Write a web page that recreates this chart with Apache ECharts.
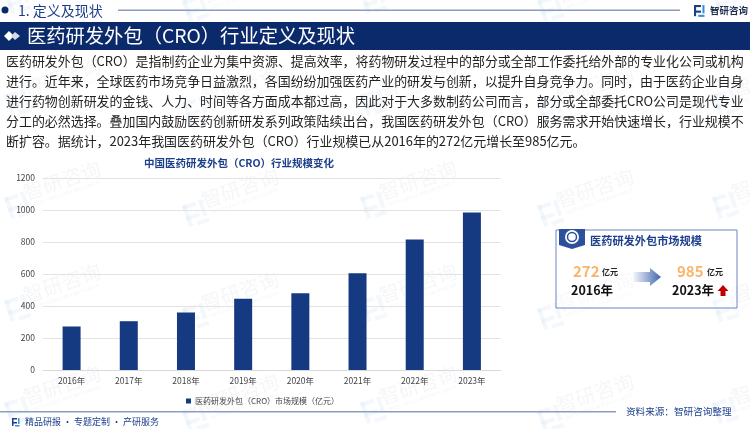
<!DOCTYPE html>
<html>
<head>
<meta charset="utf-8">
<style>
html,body{margin:0;padding:0;background:#fff;}
#main{width:750px;height:429px;}
</style>
<script src="https://cdn.jsdelivr.net/npm/echarts@6/dist/echarts.min.js"></script>
</head>
<body>
<div id="main"></div>
<script>
//data
var years = ['2016年','2017年','2018年','2019年','2020年','2021年','2022年','2023年'];
var marketSize = [272,305,360,445,480,604,815,985];
var yTicks = [0,200,400,600,800,1000,1200];
var seriesName = '医药研发外包（CRO）市场规模（亿元）';
var chartTitle = '中国医药研发外包（CRO）行业规模变化';
var bodyLines = [
	'医药研发外包（CRO）是指制药企业为集中资源、提高效率，将药物研发过程中的部分或全部工作委托给外部的专业化公司或机构',
	'进行。近年来，全球医药市场竞争日益激烈，各国纷纷加强医药产业的研发与创新，以提升自身竞争力。同时，由于医药企业自身',
	'进行药物创新研发的金钱、人力、时间等各方面成本都过高，因此对于大多数制药公司而言，部分或全部委托CRO公司是现代专业',
	'分工的必然选择。叠加国内鼓励医药创新研发系列政策陆续出台，我国医药研发外包（CRO）服务需求开始快速增长，行业规模不',
	'断扩容。据统计，2023年我国医药研发外包（CRO）行业规模已从2016年的272亿元增长至985亿元。'
];

var FONT = '"Noto Sans CJK SC","Noto Sans",sans-serif';
var NAVY = '#0b2a6b';
var BLUE = '#1d3f8b';

function txt(x, y, text, size, color, weight, align) {
	return {
		type: 'text', x: x, y: y, z: 10,
		style: {
			text: text, font: (weight || 'normal') + ' ' + size + 'px ' + FONT,
			fill: color, textAlign: align || 'left', textVerticalAlign: 'middle'
		}
	};
}

function lineGrad(x1, x2, y) {
	return {
		type: 'rect', z: 5,
		shape: {x: x1, y: y, width: x2 - x1, height: 1.5},
		style: {fill: '#8c9dbd'}
	};
}

// small logo made of two brackets
function logo(x, y, s, c1, c2, rot) {
	return {
		type: 'group', x: x, y: y, z: 10, rotation: rot || 0,
		children: [
			{type: 'rect', shape: {x: 0, y: 0, width: 5 * s, height: 1.5 * s}, style: {fill: c1 || BLUE}},
			{type: 'rect', shape: {x: 0, y: 0, width: 1.5 * s, height: 8 * s}, style: {fill: c1 || BLUE}},
			{type: 'rect', shape: {x: 0, y: 4 * s, width: 5 * s, height: 1.5 * s}, style: {fill: c1 || BLUE}},
			{type: 'rect', shape: {x: 6 * s, y: 0, width: 1.5 * s, height: 6 * s}, style: {fill: c2 || '#3f8fd8'}},
			{type: 'rect', shape: {x: 3 * s, y: 7 * s, width: 4.5 * s, height: 1.5 * s}, style: {fill: c2 || '#3f8fd8'}}
		]
	};
}

var graphics = [];

// faint watermarks behind everything
var wmRows = [-25,77,180,283,385];
var wmCols = [62,240,418,595,770];
wmRows.forEach(function(rowY) {
	wmCols.forEach(function(colX, colIdx) {
		var y = rowY + (colIdx % 2) * 8;
		var mark = logo(colX - 58, y + 18, 2.8, 'rgba(70,140,200,0.06)', 'rgba(70,140,200,0.06)', 0.33);
		mark.z = 0;
		mark.silent = true;
		graphics.push(mark);
		graphics.push({
			type: 'group', x: colX, y: y, rotation: 0.33, z: 0, silent: true,
			children: [
				{type: 'text', style: {text: '智研咨询', font: '20px ' + FONT, fill: 'rgba(60,100,140,0.06)', textAlign: 'center', textVerticalAlign: 'middle'}},
				{type: 'text', y: 14, style: {text: 'INTELLIGENCE RESEARCH GROUP', font: '4.5px ' + FONT, fill: 'rgba(60,100,140,0.07)', textAlign: 'center', textVerticalAlign: 'middle'}}
			]
		});
	});
});

// header
graphics.push({type: 'circle', z: 10, shape: {cx: 5, cy: 10, r: 3.5}, style: {fill: NAVY}});
graphics.push(txt(18, 10.5, '1. 定义及现状', 14, '#1d3f8b'));
graphics.push(lineGrad(118, 680, 9.5));
graphics.push(logo(694, 5, 1.4));
graphics.push(txt(710, 10, '智研咨询', 9.5, '#1f2d50', 'bold'));
graphics.push({type: 'rect', z: 5, shape: {x: 0, y: 22, width: 750, height: 28}, style: {fill: NAVY}});
graphics.push({type: 'polygon', z: 10, shape: {points: [[4,36],[9,31],[14,36],[9,41]]}, style: {fill: '#fff'}});
graphics.push({type: 'polygon', z: 10, shape: {points: [[11,36],[15,32],[20,36],[15,40]]}, style: {fill: '#d5d9e2'}});
graphics.push(txt(27, 36, '医药研发外包（CRO）行业定义及现状', 19.3, '#fff'));

// paragraph
bodyLines.forEach(function(cur, idx) {
	graphics.push(txt(6, 61 + idx * 20, cur, 12.95, '#222'));
});

// right panel
graphics.push({type: 'rect', z: 5, shape: {x: 556, y: 230, width: 181, height: 78}, style: {fill: 'rgba(255,255,255,0.4)', stroke: '#6b86bd', lineWidth: 1}});
graphics.push({type: 'polygon', z: 6, shape: {points: [[559,229],[585,229],[585,245],[572,249],[559,245]]}, style: {fill: '#2c4f9e'}});
graphics.push({type: 'circle', z: 7, shape: {cx: 572, cy: 237, r: 7}, style: {fill: '#fff'}});
graphics.push({type: 'circle', z: 8, shape: {cx: 572, cy: 237, r: 4.5}, style: {fill: '#fff', stroke: '#2c4f9e', lineWidth: 1.5}});
graphics.push(txt(590, 241, '医药研发外包市场规模', 11.2, '#1f3f8f', 'bold'));
graphics.push(txt(573, 271, '272', 15, '#f9b56a', 'bold'));
graphics.push(txt(602, 272, '亿元', 8, '#222', 'bold'));
graphics.push(txt(571, 290, '2016年', 12.5, '#111', 'bold'));
graphics.push({
	type: 'polygon', z: 8,
	shape: {points: [[633,272],[650,272],[650,268],[661,277],[650,286],[650,282],[633,282]]},
	style: {fill: new echarts.graphic.LinearGradient(0, 0, 1, 0, [{offset: 0, color: 'rgba(70,105,170,0.05)'}, {offset: 1, color: '#3f65ad'}])}
});
graphics.push(txt(677, 271, '985', 15, '#f9b56a', 'bold'));
graphics.push(txt(707, 272, '亿元', 8, '#222', 'bold'));
graphics.push(txt(672, 290, '2023年', 12.5, '#111', 'bold'));
graphics.push({type: 'polygon', z: 8, shape: {points: [[723,285],[728.5,291],[725.5,291],[725.5,296],[720.5,296],[720.5,291],[717.5,291]]}, style: {fill: '#c00000'}});

// footer
graphics.push(lineGrad(0, 616, 411));
graphics.push(logo(12, 418, 1));
graphics.push(txt(25, 422, '精品研报 · 专题定制 · 产研服务', 9, '#1d3f8b'));
graphics.push(txt(626, 411, '资料来源：智研咨询整理', 9.6, '#1d3f8b'));

var chart = echarts.init(document.getElementById('main'), null, {renderer: 'canvas'});
chart.setOption({
	animation: false,
	backgroundColor: '#fff',
	textStyle: {fontFamily: FONT},
	title: {
		text: chartTitle,
		left: 234,
		top: 151,
		textAlign: 'center',
		textStyle: {fontSize: 10.5, fontWeight: 'bold', color: BLUE, fontFamily: FONT, lineHeight: 14}
	},
	legend: {
		data: [seriesName],
		left: 186,
		top: 397,
		icon: 'rect',
		itemWidth: 5,
		itemHeight: 5,
		itemGap: 4,
		padding: 0,
		textStyle: {fontSize: 8, color: '#444', fontFamily: FONT, padding: [0,0,0,-1]}
	},
	grid: {left: 43, right: 249.5, top: 178, bottom: 59, containLabel: false},
	xAxis: {
		type: 'category',
		data: years,
		axisTick: {show: false},
		axisLine: {lineStyle: {color: '#d9d9d9', width: 1}},
		axisLabel: {fontSize: 8.5, color: '#444', margin: 7, fontFamily: FONT, interval: 0}
	},
	yAxis: {
		type: 'value',
		min: yTicks[0],
		max: yTicks[yTicks.length - 1],
		interval: yTicks[1] - yTicks[0],
		axisLine: {show: false},
		axisTick: {show: false},
		splitLine: {lineStyle: {color: '#e3e3e3', width: 1}},
		axisLabel: {fontSize: 8.5, color: '#444', margin: 8, fontFamily: FONT, formatter: function(v) { return String(v); }}
	},
	series: [{
		name: seriesName,
		type: 'bar',
		data: marketSize,
		barWidth: 18,
		itemStyle: {color: '#163a82'},
		z: 3
	}],
	graphic: {elements: graphics}
});
</script>
</body>
</html>
